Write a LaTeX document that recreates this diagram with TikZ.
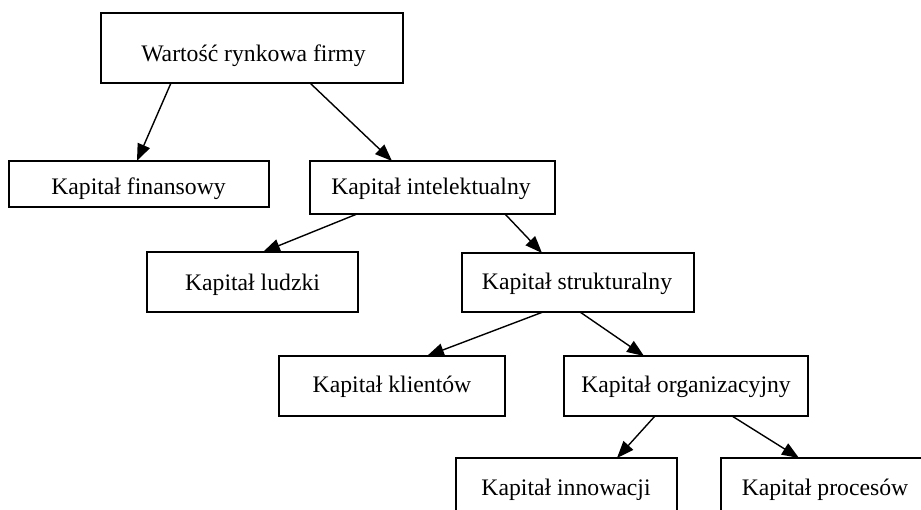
\documentclass[tikz,border=0pt]{standalone}
\usepackage{fontspec}
\setmainfont{Liberation Serif}
\usetikzlibrary{arrows.meta}
\begin{document}
\begin{tikzpicture}[x=1pt,y=-1pt,
  box/.style={draw, line width=1.5pt, inner sep=0pt, outer sep=0pt, anchor=north west},
  lbl/.style={anchor=base, inner sep=0pt, font=\fontsize{23.7}{28}\selectfont},
  arr/.style={line width=1.4pt, -{Triangle[length=17pt,width=13pt]}}]
\useasboundingbox (0,0) rectangle (921,510);
\clip (0,0) rectangle (921,510);
% boxes
\node[box, minimum width=302pt, minimum height=70pt] (W) at (101,13) {};
\node[box, minimum width=260pt, minimum height=46pt] (F) at (9,161) {};
\node[box, minimum width=245pt, minimum height=53pt] (I) at (310,161) {};
\node[box, minimum width=211pt, minimum height=60pt] (L) at (147,252) {};
\node[box, minimum width=232pt, minimum height=59pt] (S) at (462,253) {};
\node[box, minimum width=226pt, minimum height=60pt] (K) at (279,356) {};
\node[box, minimum width=244pt, minimum height=60pt] (O) at (564,356) {};
\node[box, minimum width=221pt, minimum height=60pt] (N) at (456,458) {};
\node[box, minimum width=208pt, minimum height=60pt] (P) at (721,458) {};
% labels
\node[lbl] (tW) at (253.5,62) {Wartość rynkowa firmy};
\node[lbl] (tF) at (138.5,195) {Kapitał finansowy};
\node[lbl] (tI) at (431,195) {Kapitał intelektualny};
\node[lbl] (tL) at (252.5,290.5) {Kapitał ludzki};
\node[lbl] (tS) at (577,290) {Kapitał strukturalny};
\node[lbl] (tK) at (392,393) {Kapitał klientów};
\node[lbl] (tO) at (686,393) {Kapitał organizacyjny};
\node[lbl] (tN) at (566,495) {Kapitał innowacji};
\node[lbl] (tP) at (825,495) {Kapitał procesów};
% connectors
\draw[arr] ([xshift=70pt]W.south west) -- ([xshift=128pt]F.north west);
\draw[arr] ([xshift=209pt]W.south west) -- ([xshift=82pt]I.north west);
\draw[arr] ([xshift=47pt]I.south west) -- ([xshift=116pt]L.north west);
\draw[arr] ([xshift=195pt]I.south west) -- ([xshift=80pt]S.north west);
\draw[arr] ([xshift=81pt]S.south west) -- ([xshift=148pt]K.north west);
\draw[arr] ([xshift=118pt]S.south west) -- ([xshift=80pt]O.north west);
\draw[arr] ([xshift=91pt]O.south west) -- ([xshift=161pt]N.north west);
\draw[arr] ([xshift=168pt]O.south west) -- ([xshift=78pt]P.north west);
\end{tikzpicture}
\end{document}
